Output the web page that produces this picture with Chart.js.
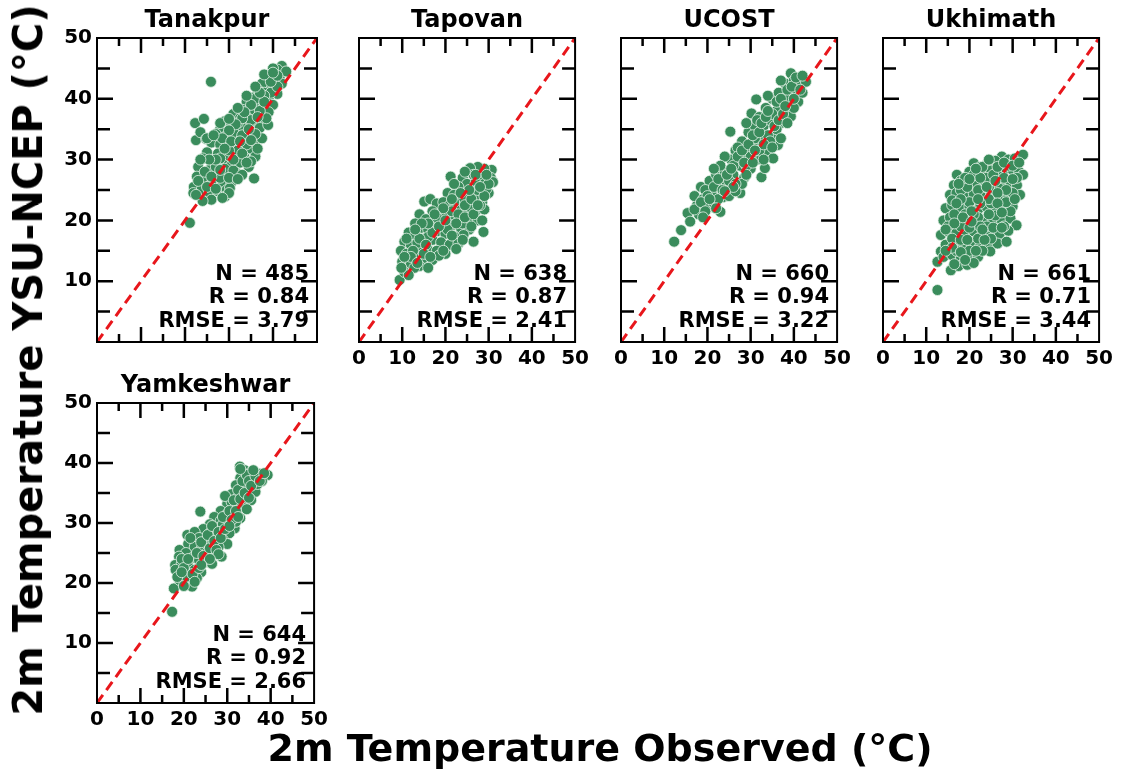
<!DOCTYPE html>
<html>
<head>
<meta charset="utf-8">
<script src="https://cdn.jsdelivr.net/npm/chart.js@4.4.0/dist/chart.umd.min.js"></script>
<style>
  body { margin: 0; background: #fff; width: 1121px; height: 776px; position: relative; overflow: hidden; font-family: "DejaVu Sans", sans-serif; }
  .panel { position: absolute; }
  #yTitle { position: absolute; left: 28px; top: 360px; transform: translate(-50%, -50%) rotate(-90deg); font-weight: bold; font-size: 40px; white-space: nowrap; }
  #xTitle { position: absolute; left: 600px; top: 748px; transform: translate(-50%, -50%); font-weight: bold; font-size: 38px; white-space: nowrap; }
</style>
</head>
<body>
<div class="panel" id="p0"><canvas id="c0"></canvas></div>
<div class="panel" id="p1"><canvas id="c1"></canvas></div>
<div class="panel" id="p2"><canvas id="c2"></canvas></div>
<div class="panel" id="p3"><canvas id="c3"></canvas></div>
<div class="panel" id="p4"><canvas id="c4"></canvas></div>
<div id="yTitle">2m Temperature YSU-NCEP (°C)</div>
<div id="xTitle">2m Temperature Observed (°C)</div>
<script>
// station names and stats
const stations = ['Tanakpur', 'Tapovan', 'UCOST', 'Ukhimath', 'Yamkeshwar'];
const nValues = [485, 638, 660, 661, 644];
const rValues = ['0.84', '0.87', '0.94', '0.71', '0.92'];
const rmseValues = ['3.79', '2.41', '3.22', '3.44', '2.66'];
const tickValues = [0, 5, 10, 15, 20, 25, 30, 35, 40, 45, 50];
const oneToOne = [0, 50];

// [observed, YSU-NCEP] pairs
const tanakpur = [
  [42,45.4],[41,44.8],[40,45],[39.5,44],[41.5,43.5],[40.5,43],[38.5,43.5],[39,42.2],[37.5,42.5],[42,42.5],
  [36.5,41.5],[38,41],[40,41.5],[41,40.8],[35.5,40.2],[37,39.8],[39,40],[34,39.5],[36,38.5],[38,38.8],
  [40,39],[33,38.2],[35,37.5],[37.5,37.2],[39,37.8],[31,37.5],[32.5,36.8],[34.5,36.2],[36.5,36],[29,36.3],
  [30.5,35.6],[33,35.2],[35.5,34.8],[37,35.2],[28,35],[27,34.2],[29.5,34],[31.5,33.8],[34,33.6],[36,33],
  [38.9,35.7],[25.9,42.8],[22.3,36],[24.3,36.7],[22.5,33.2],[23.5,34.5],[24.8,33.4],
  [26,32.8],[28,32.5],[30,32.2],[32.5,32],[35,31.8],[25,31.2],[27.5,31],[29.5,30.6],[31.5,30.8],
  [33.5,30.4],[36,30.5],[24,30.2],[26.5,29.8],[28.5,29.3],[30.5,29],[32.5,29.5],[34.5,28.8],[23,28.8],
  [25.5,28.3],[27.5,27.8],[29.5,27.5],[31.5,27.9],[22.7,27.2],[24.5,26.8],[26.5,26.4],[28.5,26],[30.5,26.2],
  [22,25.5],[23.8,25.1],[25.5,24.6],[27.5,24.8],[29.5,25],[35.7,26.9],[21.9,24.5],[26,23.4],[29.1,23.9],
  [30.2,25.3],[24,23.2],[21.1,19.6],[31,34.5],[33,34],[34,32.5],[32,31.5],[30,31.5],[28,30.2],[27,28.8],
  [29,28.5],[31,28.2],[33,27.5],[26,26],[28,27],[30,24.5],[35,29.7],[37.5,33.5],[38.5,36.8],[36,34.2],
  [39.5,41],[41,42],[43,44.5],
  [32,36],[34,37],[36,40],[38,40.5],[37,38],[35,36.5],[33,36.8],[31.5,35.8],[30,34.8],[28.5,33.5],
  [30.5,33],[32.5,33],[34.5,35],[36.5,37],[38,39.5],[39.5,42.8],[41,43.8],[37,41],[35,39],[33.5,37.8],
  [29,31.8],[27,30],[25.5,30],[24.5,28],[26,27.2],[28,28.3],[30,27],[32,26.8],[31,30],[33,31],
  [34,29.5],[35,33.2],[36.5,31.8],[23,26.5],[25,25.5],[27,25.2],[28.5,23.7],[22.5,24.2],[23.5,30],[25,33.5],
  [26.5,34],[28,36],[30,36.7],[32,38.5],[34,40.5],[36,42],[38,44],[40,44.3]
];
const tapovan = [
  [30.7,28.3],[29,28.5],[27.5,28.8],[25.7,28.6],[26.5,27.5],[28.5,27.3],[30.5,27],[24,27],[21.2,27.2],[25,26],
  [27,26.2],[29,26],[31,26.3],[23,25.5],[26,24.8],[28,24.6],[30,24.5],[20.5,24.5],[22,24.2],[24,23.8],
  [26.5,23.2],[28.5,23],[15.1,23.1],[16.5,23.5],[18,22.8],[19.5,23],[21,22.5],[23,22],[25,21.8],[27,21.5],
  [29,21.8],[17,21.5],[19,21.2],[21,20.8],[23.5,20.5],[25.5,20.2],[27.5,20],[14,21],[15.5,20.2],[17.5,19.8],
  [19.5,19.5],[21.5,19.2],[23.5,18.8],[25.5,18.5],[28.8,18.1],[24.2,17.6],[26.5,16.5],[13,19.5],[14.5,18.8],
  [16,18.5],[18,18.2],[20,17.8],[22,17.4],[11.5,18],[13,17.5],[15,17],[17,16.8],[19,16.4],[21,16],
  [23,16.2],[10.5,16.5],[12,16],[14,15.5],[16,15.2],[18,15],[20,14.5],[9.7,15],[11,14.5],[13,14],
  [15,13.8],[17,13.5],[10,13.2],[12,12.8],[14,12.5],[16,12.2],[9.4,10.2],[10.5,11.5],[12.8,12.2],[11.5,11],
  [18.5,14.2],[22.5,15.3],[24,19.5],[26,22],[28,22.5],[20,21],[22,23],[18,20.5],[16,17.3],[13.5,16.3],
  [20.5,18.5],[27,24],[29.5,25.2],
  [11,17],[12.5,15],[14,17],[15.5,16],[17,18],[18.5,19],[20,20],[21.5,21.5],[23,21],[24.5,22.5],
  [26,23.5],[27.5,25],[29,24],[30,26],[28,25.5],[25.5,25],[23.5,24.5],[21.5,23.5],[19.5,22],[17.5,21],
  [16,19.5],[14.5,19.5],[13,18.5],[12,14],[13.5,13],[15,14.5],[16.5,14],[19.5,15],[21.5,17.5],[22.5,19.5],
  [24.5,20.5],[26.5,21],[27.5,22.5],[28.5,20],[26,19],[24,16.8],[10.5,14],[9.8,12.2],[22,26],[24.5,28],
  [27,27.5],[29.5,27.5]
];
const ucost = [
  [12.3,16.5],[13.9,18.4],[15.4,21.2],[17.6,22.5],[16,19.8],[18,21],[17,24],[18.5,25.5],[19,23.5],[20,22],
  [20.5,26.5],[21,24.5],[21.5,22.8],[22,27.5],[22.5,25.5],[23,21.4],[23.5,23.8],[24,28],[24.5,26],[25,24],
  [25.3,34.6],[25.5,30],[26,27.5],[26.5,31.5],[27,25.5],[27.6,24.5],[27.5,29],[28,33],[28.5,27],[29,31],
  [29.5,34.5],[30.2,37.6],[30,28.5],[30.5,32.5],[31,35.5],[31.3,39.9],[31.5,30],[32,37],[32.5,27.1],[32.5,33.5],
  [33,35.5],[33.3,28.6],[33.5,38.5],[34,31.5],[34.5,36.5],[35,40],[35.2,30.2],[35.5,34],[36,38],[36.3,32.4],
  [36.5,41],[37,36],[37.5,39.5],[38,42.5],[38.5,38],[39,40.5],[39.3,44.2],[39.3,37.1],[40,43],[40.5,41.5],
  [41,39.5],[41.5,43],[42.8,42.8],[42,41],[37,43],[34,40.5],[29,36],[27,32],[24,30.5],[23,29],
  [21.5,28.5],[19.5,25],[26,29],[28,26],[30,30.5],[32,31.5],[34,34],[36,35],[38,40],[40,38.5],
  [35,37.5],[31,33.5],[25,26.5],[22.5,23.5],[20,24],[37,33.5],[33,30],[29,29],[26.5,24.8],
  [17,21.8],[18.5,23],[19.5,21.5],[20.5,23.5],[21.5,25.5],[22.5,26.8],[23.5,25],[24.5,27.5],[25.5,28.5],[26.5,26],
  [27,30.5],[28,31.5],[28.5,29.5],[29.5,32.5],[30.5,34],[31.5,36.5],[32,34.5],[32.5,36],[33.5,37],[34,38],
  [34.5,33],[35.5,35.5],[36,39.5],[36.5,36.5],[37,40],[37.5,37.5],[38,38.8],[38.5,41.5],[39.5,42],[40,40],
  [40.5,43.5],[41.5,41.5],[42,43.8],[33,32.5],[31,31.5],[29,27.5],[26,25.5],[24,24.8],[22,22],[19,20.5],
  [30.5,29.5],[35,32],[38.5,36]
];
const ukhimath = [
  [21,29.4],[22.5,28.8],[27.5,30.5],[29,30],[30.5,30.2],[32.4,30.8],[26,29.8],[24,29.2],
  [20,28],[23,27.8],[25,28.2],[27,28],[28.5,28.5],[30,28.3],[31.5,28],[32.4,27.5],[17.1,27.5],
  [16.4,25.8],[18,26.5],[19.5,26.2],[21.5,26],[23.5,26.5],[25.5,26.3],[27.5,26],[29.5,26.2],[31,25.8],
  [15.5,24.2],[17,24.5],[19,24],[21,24.4],[23,23.8],[25,24.2],[27,24],[29,23.8],[31.7,24.2],
  [14.5,22],[16,22.5],[18,22],[20,22.3],[22,21.8],[24,22.2],[26,21.8],[28,22],[30,22.3],
  [14,20],[15.5,20.5],[17.5,20],[19.5,20.2],[21.5,19.8],[23.5,20.2],[25.5,19.8],[27.5,20],[29.5,20.3],[30.9,19.2],
  [13.4,17.6],[15,18.2],[17,18],[19,17.8],[21,18.2],[23,17.7],[25,18],[27,17.8],[29,18.3],
  [13.4,14.9],[14.5,16],[16.5,16.2],[18.5,15.8],[20.5,16.3],[22.5,15.8],[24.5,16],[26.5,16.2],[28.6,16.5],
  [12.6,13.2],[14,14],[16,14.3],[18,13.8],[20,14.2],[22,14],[24.8,14.9],
  [15.7,11.8],[17.5,12.5],[19.5,12.7],[21,13],[12.6,8.55],
  [16,23.3],[18,25],[20,23],[22,25],[24,27],[26,25],[28,27],[30,24.5],[26,23],[22,20.5],
  [18,19],[20,18.8],[24,19],[26,20.8],[28,19],[16,17],[22,17],[18,16.8],[25,17],[20,15],
  [23,15],[17,15],[19,21],[21,21],[27,25.2],[29,29],[31,27],[25,22.8],[23,28.8],
  [15,19],[16.5,21],[18,23.5],[19.5,25.5],[21,27.5],[22.5,27],[24,25.5],[25.5,27.5],[26.5,28.8],[28,29.5],
  [30,29],[31.5,29.5],[30,26.8],[28.5,25],[26.5,24.5],[24.5,23.5],[22.5,22.8],[20.5,21.5],[18.5,20.5],[16.5,19.5],
  [14.5,18.5],[16,15.5],[18,14.8],[19.5,16.8],[21.5,15],[23.5,16.8],[25.5,18.8],[27.5,18.8],[29.5,21.5],[28.5,23],
  [26.5,22.8],[24.5,21],[22.5,19],[20.5,19.8],[17,22.8],[19,27],[21.5,28.5],[24.5,30],[20,26.8],[30.5,23.5],
  [27.5,21.3],[23,18.5],[19,13.5],[16.5,12.8],[14.5,15],[17.5,26],[22,23.5],[26,26.5]
];
const yamkeshwar = [
  [32.9,39.4],[34,38.8],[35.5,38.5],[36.3,38.3],[37.5,38.2],[39.3,38],[33,37.5],[34.5,37.2],[36,36.8],[38,37],
  [32,36.3],[33.5,35.8],[35,35.5],[36.5,35.2],[31,34.8],[32.5,34.3],[34,34],[35.5,33.8],[30,33.2],[31.5,32.8],
  [33,32.5],[34.5,32.3],[28.5,32],[30,31.5],[31.5,31],[33,30.8],[23.8,31.9],[27,31],[28.5,30.4],[30,30],
  [31.7,29.1],[26,29.8],[27.5,29.2],[29,28.8],[30.5,28.3],[24.5,29],[26,28.3],[27.5,27.8],[29,27.2],[30,26.5],
  [20.8,28],[22.5,28.5],[23.5,27.5],[25,27],[26.5,26.5],[28,26],[21,26.5],[22.5,26],[24,25.6],[25.5,25.2],
  [27,24.8],[28.7,24.4],[19,25.5],[20.5,25],[18.9,24.4],[22,24.2],[23.5,23.8],[25,23.5],[26.5,23.2],[18,23],
  [19.5,23.2],[21,22.8],[22.5,22.2],[24,21.8],[18.1,22.2],[17.7,19.1],[19,20.5],[20.5,21],[21.9,19.4],[20,19.5],
  [17.3,15.2],[31,33.5],[29,29.8],[27,28.4],[25,24],[23,20.8],[32,30.2],[36,37.5],[37,36.5],[34,36],[29.5,34.5],
  [18.5,21],[19.5,24],[20,22.5],[21,24],[21.5,27.5],[22,21.5],[23,25],[23.5,22.5],[24,26.8],[24.5,24.5],
  [25.5,28],[26,25.8],[26.5,29.5],[27,27],[27.5,25.5],[28,28.5],[28.5,27.5],[29,31],[29.5,29],[30.5,32],
  [31,30.5],[31.5,33.8],[32,32],[32.5,35.5],[33,34],[33.5,37],[34,35],[34.5,38],[35,37],[35.5,36.2],
  [36.5,37.8],[37.5,37],[38.5,38.3],[33,39],[32.5,31],[30.5,29.5],[28,24.8],[26,24],[24,23],[22.5,20.2],
  [19.5,21.8],[36,38.8],[35,34.2]
];
const stationData = [tanakpur, tapovan, ucost, ukhimath, yamkeshwar];

// plot area of every panel on the page
const boxes = [
  { left: 97, top: 38, w: 220, h: 304, xLab: false, yLab: true },
  { left: 359, top: 38, w: 219, h: 304, xLab: true, yLab: false },
  { left: 621, top: 38, w: 219, h: 304, xLab: true, yLab: false },
  { left: 883, top: 38, w: 219, h: 304, xLab: true, yLab: false },
  { left: 97, top: 403, w: 220, h: 300, xLab: true, yLab: true }
];
const PAD_L = 50, PAD_T = 40, PAD_R = 16, PAD_B = 30;
const tickFont = { family: 'DejaVu Sans', weight: 'bold', size: 20 };

// frame, inward ticks, title and stats
const panelDeco = {
  id: 'panelDeco',
  afterDraw(chart) {
    const { ctx, chartArea: a, scales } = chart;
    const i = chart.options.plugins.panelDeco.index;
    ctx.save();
    ctx.strokeStyle = '#000';
    ctx.lineWidth = 2.5;
    tickValues.forEach(v => {
      if (v === 0 || v === 50) return;
      const major = v % 10 === 0;
      const px = scales.x.getPixelForValue(v);
      const py = scales.y.getPixelForValue(v);
      const lx = major ? 15 : 8;
      const ly = major ? 16 : 13;
      ctx.beginPath();
      ctx.moveTo(px, a.bottom); ctx.lineTo(px, a.bottom - lx);
      ctx.moveTo(px, a.top); ctx.lineTo(px, a.top + lx);
      ctx.moveTo(a.left, py); ctx.lineTo(a.left + ly, py);
      ctx.moveTo(a.right, py); ctx.lineTo(a.right - ly, py);
      ctx.stroke();
    });
    ctx.lineWidth = 2;
    ctx.strokeRect(a.left, a.top, a.right - a.left, a.bottom - a.top);

    ctx.fillStyle = '#000';
    ctx.textAlign = 'center';
    ctx.textBaseline = 'alphabetic';
    ctx.font = 'bold 24px "DejaVu Sans"';
    ctx.fillText(stations[i], (a.left + a.right) / 2, a.top - 11);

    ctx.textAlign = 'right';
    ctx.font = 'bold 21px "DejaVu Sans"';
    const rx = a.right - 8;
    ctx.fillText('N = ' + nValues[i], rx, a.bottom - 62);
    ctx.fillText('R = ' + rValues[i], rx, a.bottom - 39);
    ctx.fillText('RMSE = ' + rmseValues[i], rx, a.bottom - 15);
    ctx.restore();
  }
};

stationData.forEach((pts, i) => {
  const b = boxes[i];
  const wrap = document.getElementById('p' + i);
  wrap.style.left = (b.left - PAD_L) + 'px';
  wrap.style.top = (b.top - PAD_T) + 'px';
  const canvas = document.getElementById('c' + i);
  canvas.width = b.w + PAD_L + PAD_R;
  canvas.height = b.h + PAD_T + PAD_B;

  new Chart(canvas, {
    type: 'scatter',
    data: {
      datasets: [
        {
          data: oneToOne.map(v => ({ x: v, y: v })),
          showLine: true,
          borderColor: '#e8161b',
          borderWidth: 3,
          borderDash: [10, 6],
          pointRadius: 0
        },
        {
          data: pts.map(p => ({ x: p[0], y: p[1] })),
          backgroundColor: '#3a8c5c',
          borderColor: '#e6f2e9',
          borderWidth: 0.8,
          pointRadius: 5.5
        }
      ]
    },
    options: {
      responsive: false,
      animation: false,
      layout: { padding: { top: PAD_T, right: PAD_R, left: 0, bottom: 0 } },
      plugins: {
        legend: { display: false },
        tooltip: { enabled: false },
        panelDeco: { index: i }
      },
      scales: {
        x: {
          type: 'linear', min: 0, max: 50,
          grid: { display: false, drawTicks: false },
          border: { display: false },
          ticks: { display: b.xLab, stepSize: 10, padding: 5, color: '#000', font: tickFont, maxRotation: 0, autoSkip: false },
          afterFit: s => { s.height = PAD_B; }
        },
        y: {
          type: 'linear', min: 0, max: 50,
          grid: { display: false, drawTicks: false },
          border: { display: false },
          ticks: { display: b.yLab, stepSize: 10, padding: 5, color: '#000', font: tickFont, autoSkip: false,
            callback: v => (v === 0 ? '' : v) },
          afterFit: s => { s.width = PAD_L; }
        }
      }
    },
    plugins: [panelDeco]
  });
});
</script>
</body>
</html>
